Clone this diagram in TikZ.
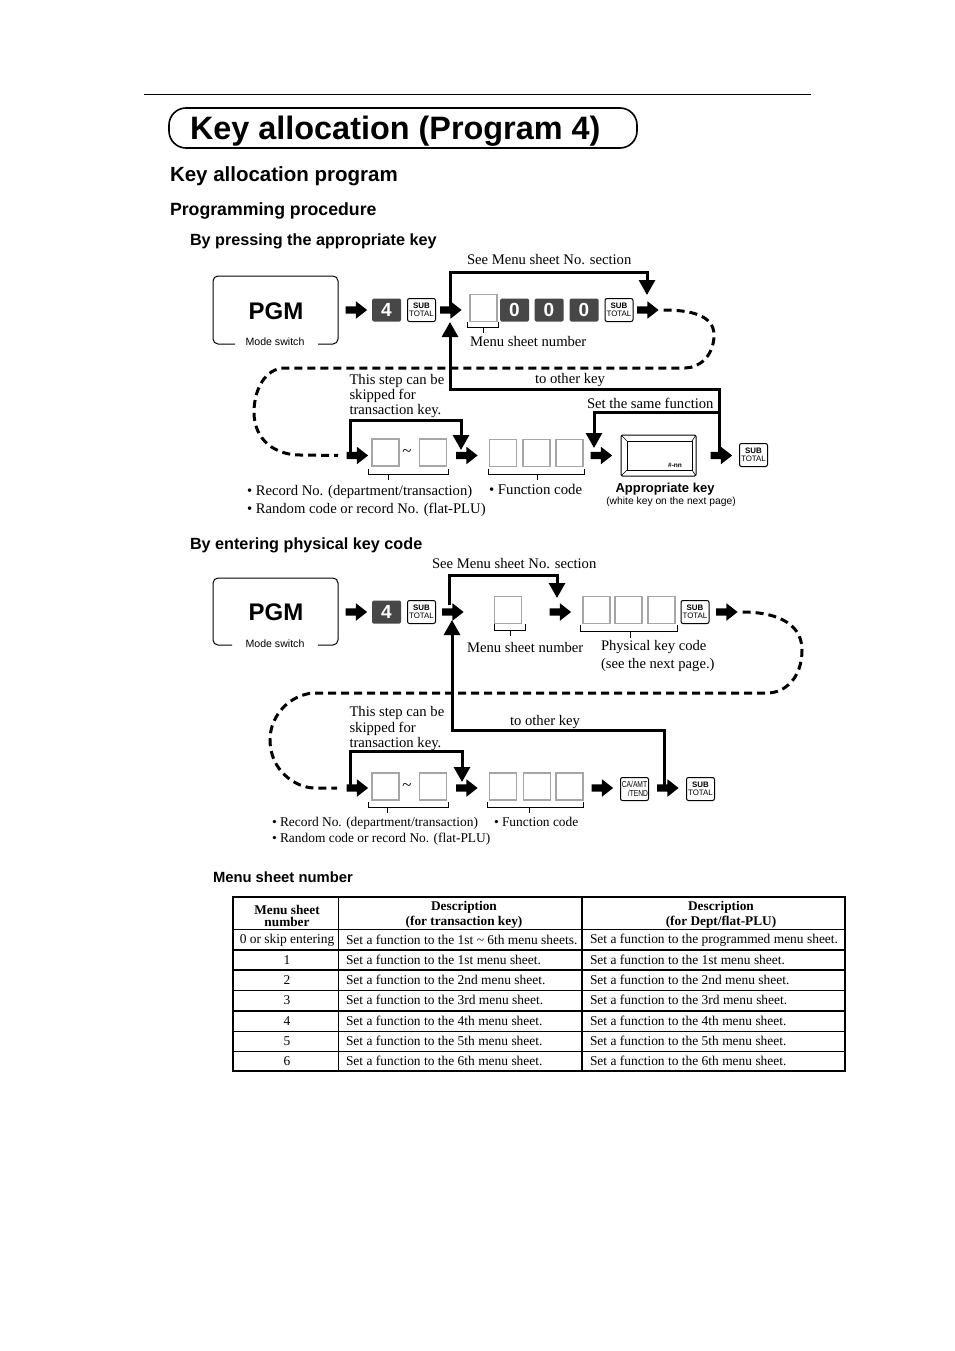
\documentclass[tikz,border=0pt]{standalone}
\usepackage{fontspec}
\usepackage{graphicx}
\setmainfont{Liberation Serif}
\newfontfamily\arialfont{Liberation Sans}
\usetikzlibrary{arrows.meta,shapes.arrows}

\begin{document}
\begin{tikzpicture}[x=1pt, y=-1pt,
  every node/.style = {inner sep=0pt, outer sep=0pt},
  heading/.style = {anchor=west, font=\arialfont\bfseries\fontsize{#1}{#1}\selectfont},
  note/.style = {anchor=west, align=left, font=\fontsize{14.65}{15.3}\selectfont},
  smallnote/.style = {anchor=west, align=left, font=\fontsize{13.4}{16}\selectfont},
  modebox/.style = {line width=1pt, rounded corners=5pt},
  blockarrow/.style = {single arrow, fill=black, inner sep=3.5pt, minimum height=21.5pt,
    single arrow head extend=5pt, single arrow tip angle=76, single arrow head indent=0pt},
  digitkey/.style = {fill=black!72, rounded corners=1.5pt, minimum width=29pt, minimum height=23pt,
    text=white, font=\arialfont\bfseries\fontsize{19}{19}\selectfont},
  whitekey/.style = {draw, line width=1pt, rounded corners=2pt, minimum width=28pt, minimum height=23pt,
    align=center, font=\arialfont\fontsize{7.9}{8.4}\selectfont},
  entrybox/.style = {draw=black!35, line width=1.4pt, minimum width=27pt, minimum height=27pt},
  looparrow/.style = {line width=3pt, -{Triangle[width=16pt,length=15pt]}},
  dashtrack/.style = {line width=3pt, dash pattern=on 8pt off 5pt},
  bracket/.style = {line width=.8pt},
  cell/.style = {font=\fontsize{13.45}{13.45}\selectfont},
  headcell/.style = {align=center, font=\bfseries\fontsize{13.3}{15}\selectfont},
  tildemark/.style = {font=\fontsize{17}{17}\selectfont},
  ]
  \useasboundingbox (0,0) rectangle (954,1351);

  % title block
  \draw[line width=1pt] (144,95) -- (811,95);
  \draw[line width=1.6pt, rounded corners=17pt] (169,108) rectangle (637,148);
  \node[heading=32.4] (title) at (190,131.5) {Key allocation (Program 4)};
  \node[heading=20.5] (section) at (170,176) {Key allocation program};
  \node[heading=17.7] (procedure) at (170,211) {Programming procedure};
  \node[heading=16.2] (methodA) at (190,241) {By pressing the appropriate key};

  % first procedure, upper row
  \draw[modebox] (235,344) -- (213,344) -- (213,276) -- (338,276) -- (338,344) -- (318,344);
  \node[font=\arialfont\bfseries\fontsize{24}{24}\selectfont] (pgmA) at (276,311) {PGM};
  \node[font=\arialfont\fontsize{10.6}{10.6}\selectfont] (modeA) at (275,342) {Mode switch};
  \node[blockarrow] (arrA1) at (354,310) {};
  \node[digitkey] (fourA) at (386.5,310) {4};
  \node[whitekey] (subA1) at (421.5,310) {\textbf{SUB}\\TOTAL};
  \node[blockarrow] (arrA2) at (448.5,310) {};
  \node[entrybox] (menuA) at (483.5,308) {};
  \node[digitkey] (zeroA1) at (514.5,310) {0};
  \node[digitkey] (zeroA2) at (549,310) {0};
  \node[digitkey] (zeroA3) at (584,310) {0};
  \node[whitekey] (subA2) at (619,310) {\textbf{SUB}\\TOTAL};
  \node[blockarrow] (arrA3) at (645.5,310) {};
  \draw[bracket] (467,322) |- (498,327) -- (498,322);
  \draw[bracket] (483,327) -- (483,333);
  \node[note] (seeA) at (467,259.5) {See Menu sheet No. section};
  \node[note] (menuTextA) at (470,341) {Menu sheet number};

  % first procedure, lower row
  \node[blockarrow] (arrA4) at (355,455.5) {};
  \node[entrybox] (fromA) at (385.5,452.5) {};
  \node[tildemark] (tildeA) at (407,453) {\textasciitilde};
  \node[entrybox] (toA) at (433,452.5) {};
  \node[blockarrow] (arrA5) at (464.5,455.5) {};
  \node[entrybox] (codeA1) at (503,453) {};
  \node[entrybox] (codeA2) at (536.5,453) {};
  \node[entrybox] (codeA3) at (569.5,453) {};
  \node[blockarrow] (arrA6) at (599,455.5) {};
  \node[draw, line width=1pt, rounded corners=1.5pt, minimum width=75pt, minimum height=41pt] (appkey) at (658.5,455.5) {};
  \node[draw, line width=1pt, minimum width=65pt, minimum height=29pt] (appface) at (659.5,455.5) {};
  \draw[line width=.6pt] (appkey.north west) -- (appface.north west);
  \draw[line width=.6pt] (appkey.north east) -- (appface.north east);
  \draw[line width=.6pt] (appkey.south west) -- (appface.south west);
  \draw[line width=.6pt] (appkey.south east) -- (appface.south east);
  \node[font=\arialfont\bfseries\fontsize{6.5}{6.5}\selectfont] (appcode) at (675,465) {\#-nn};
  \node[blockarrow] (arrA7) at (719,455.5) {};
  \node[whitekey] (subA3) at (753.5,455) {\textbf{SUB}\\TOTAL};
  \draw[bracket] (368,469) |- (448,474) -- (448,469);
  \draw[bracket] (388,474) -- (388,480);
  \draw[bracket] (488,469) |- (584,474) -- (584,469);
  \draw[bracket] (537,474) -- (537,480);
  \node[note] (skipA) at (349.5,396) {This step can be\\skipped for\\transaction key.};
  \node[note] (otherA) at (535,379.5) {to other key};
  \node[note] (sameA) at (587,403) {Set the same function};
  \node[note, font=\fontsize{14.65}{18}\selectfont] (recordA) at (247,500.5) {• Record No. (department/transaction)\\• Random code or record No. (flat-PLU)};
  \node[note, font=\fontsize{14.8}{15}\selectfont] (funcA) at (489,489.5) {• Function code};
  \node[font=\arialfont\bfseries\fontsize{13}{13}\selectfont] (apptext) at (665,489.5) {Appropriate key};
  \node[font=\arialfont\fontsize{10.3}{10.3}\selectfont] (appnote) at (671,502) {(white key on the next page)};

  % first procedure, connectors
  \coordinate (cornerA1) at (450,272);
  \coordinate (dropA1) at (647,295);
  \coordinate (backA) at (450,389);
  \coordinate (splitA) at (719,412.5);
  \coordinate (dropA2) at (594,448);
  \coordinate (cornerA2) at (350,420.5);
  \coordinate (dropA3) at (461,450);
  \coordinate (riseA) at (450,322);
  \coordinate (dashEndA) at (338,455.5);
  \draw[looparrow] (arrA2.center -| cornerA1) -- (cornerA1) -| (dropA1);
  \draw[looparrow] (arrA7.center -| splitA) -- (splitA) -- (719,389) -- (backA) -- (riseA);
  \draw[looparrow] (splitA) -| (dropA2);
  \draw[looparrow] (arrA4.center -| cornerA2) -- (cornerA2) -| (dropA3);
  \draw[dashtrack] (arrA3.east) ++(5,0) .. controls (690,310) and (714,315) .. (714,335)
    .. controls (714,355) and (700,368) .. (685,368) -- (285,368)
    .. controls (265,368) and (254,390) .. (254,412)
    .. controls (254,440) and (275,455) .. (300,455) -- (dashEndA);

  \node[heading=16.2] (methodB) at (190,545.5) {By entering physical key code};

  % second procedure, upper row
  \draw[modebox] (232,645) -- (213,645) -- (213,578) -- (338,578) -- (338,645) -- (318,645);
  \node[font=\arialfont\bfseries\fontsize{24}{24}\selectfont] (pgmB) at (276,612.5) {PGM};
  \node[font=\arialfont\fontsize{10.6}{10.6}\selectfont] (modeB) at (275,644) {Mode switch};
  \node[blockarrow] (arrB1) at (354,612) {};
  \node[digitkey] (fourB) at (386.5,612) {4};
  \node[whitekey] (subB1) at (421.5,612) {\textbf{SUB}\\TOTAL};
  \node[blockarrow] (arrB2) at (450.5,612) {};
  \node[entrybox] (menuB) at (508,610) {};
  \node[blockarrow] (arrB3) at (558,612) {};
  \node[entrybox] (codeB1) at (596.5,610) {};
  \node[entrybox] (codeB2) at (628.5,610) {};
  \node[entrybox] (codeB3) at (661.5,610) {};
  \node[whitekey] (subB2) at (695,612) {\textbf{SUB}\\TOTAL};
  \node[blockarrow] (arrB4) at (724.5,612) {};
  \draw[bracket] (494,624) |- (525,630) -- (525,624);
  \draw[bracket] (510,630) -- (510,636);
  \draw[bracket] (580,625) |- (677,631) -- (677,625);
  \draw[bracket] (630,631) -- (630,638);
  \node[note] (seeB) at (432,563.5) {See Menu sheet No. section};
  \node[note] (menuTextB) at (467,647) {Menu sheet number};
  \node[note, font=\fontsize{14.6}{18}\selectfont] (physB) at (601,656) {Physical key code\\(see the next page.)};

  % second procedure, lower row
  \node[blockarrow] (arrB5) at (355,788) {};
  \node[entrybox] (fromB) at (385.5,786.5) {};
  \node[tildemark] (tildeB) at (407,787) {\textasciitilde};
  \node[entrybox] (toB) at (433,786.5) {};
  \node[blockarrow] (arrB6) at (464.5,788) {};
  \node[entrybox] (codeB4) at (503,786.5) {};
  \node[entrybox] (codeB5) at (537,786.5) {};
  \node[entrybox] (codeB6) at (569.5,786.5) {};
  \node[blockarrow] (arrB7) at (600,788) {};
  \node[whitekey] (cashB) at (634.5,789) {\scalebox{.85}[1.1]{CA/AMT}\\\hspace*{7pt}\scalebox{.85}[1.1]{/TEND}};
  \node[blockarrow] (arrB8) at (665.5,788) {};
  \node[whitekey] (subB3) at (700.5,789) {\textbf{SUB}\\TOTAL};
  \draw[bracket] (368,802) |- (448,807) -- (448,802);
  \draw[bracket] (387,807) -- (387,813);
  \draw[bracket] (487,802) |- (583,807) -- (583,802);
  \draw[bracket] (529,807) -- (529,813);
  \node[note] (skipB) at (349.5,728.5) {This step can be\\skipped for\\transaction key.};
  \node[note] (otherB) at (510,721.5) {to other key};
  \node[smallnote] (recordB) at (272,831) {• Record No. (department/transaction)\\• Random code or record No. (flat-PLU)};
  \node[smallnote] (funcB) at (494,821.5) {• Function code};

  % second procedure, connectors
  \coordinate (cornerB1) at (449.5,575);
  \coordinate (dropB1) at (557,598);
  \coordinate (backB) at (452,730.5);
  \coordinate (riseB) at (452,620);
  \coordinate (cornerB2) at (350,751.5);
  \coordinate (dropB2) at (462,782);
  \coordinate (dashEndB) at (337,788);
  \draw[looparrow] (arrB2.center -| cornerB1) ++(0,-7) -- (cornerB1) -| (dropB1);
  \draw[looparrow] (arrB8.center -| 664,0) -- (664,730.5) -- (backB) -- (riseB);
  \draw[looparrow] (arrB5.center -| cornerB2) -- (cornerB2) -| (dropB2);
  \draw[dashtrack] (arrB4.east) ++(5,0) .. controls (770,612) and (802,620) .. (802,650)
    .. controls (802,678) and (785,693) .. (767,693) -- (313,693)
    .. controls (290,695) and (270,715) .. (270,740)
    .. controls (270,770) and (295,788) .. (315,788) -- (dashEndB);

  % menu sheet table
  \node[heading=14.8] (tabletitle) at (213,877.5) {Menu sheet number};
  \draw[line width=2pt] (233,897) rectangle (845,1071);
  \draw[line width=1.6pt] (338.5,897) -- (338.5,1071);
  \draw[line width=1.6pt] (582,897) -- (582,1071);
  \draw[line width=1.6pt] (233,929.5) -- (845,929.5);
  \draw[line width=1.6pt] (233,950) -- (845,950);
  \draw[line width=1.6pt] (233,970) -- (845,970);
  \draw[line width=1.6pt] (233,990.5) -- (845,990.5);
  \draw[line width=1.6pt] (233,1011) -- (845,1011);
  \draw[line width=1.6pt] (233,1031.5) -- (845,1031.5);
  \draw[line width=1.6pt] (233,1051.5) -- (845,1051.5);

  \node[headcell, font=\bfseries\fontsize{13.3}{12}\selectfont] (headA) at (287,915.5) {Menu sheet\\number};
  \node[headcell] (headB) at (464,915) {Description\\(for transaction key)};
  \node[headcell] (headC) at (721,915) {Description\\(for Dept/flat-PLU)};

  \node[cell] (no0) at (287,940) {0 or skip entering};
  \node[cell] (no1) at (287,960) {1};
  \node[cell] (no2) at (287,980) {2};
  \node[cell] (no3) at (287,1000) {3};
  \node[cell] (no4) at (287,1021) {4};
  \node[cell] (no5) at (287,1041) {5};
  \node[cell] (no6) at (287,1061) {6};

  \node[cell, anchor=west] (tr0) at (346,940) {Set a function to the 1st \textasciitilde{} 6th menu sheets.};
  \node[cell, anchor=west] (tr1) at (346,960) {Set a function to the 1st menu sheet.};
  \node[cell, anchor=west] (tr2) at (346,980) {Set a function to the 2nd menu sheet.};
  \node[cell, anchor=west] (tr3) at (346,1000) {Set a function to the 3rd menu sheet.};
  \node[cell, anchor=west] (tr4) at (346,1021) {Set a function to the 4th menu sheet.};
  \node[cell, anchor=west] (tr5) at (346,1041) {Set a function to the 5th menu sheet.};
  \node[cell, anchor=west] (tr6) at (346,1061) {Set a function to the 6th menu sheet.};

  \node[cell, anchor=west] (dp0) at (590,940) {Set a function to the programmed menu sheet.};
  \node[cell, anchor=west] (dp1) at (590,960) {Set a function to the 1st menu sheet.};
  \node[cell, anchor=west] (dp2) at (590,980) {Set a function to the 2nd menu sheet.};
  \node[cell, anchor=west] (dp3) at (590,1000) {Set a function to the 3rd menu sheet.};
  \node[cell, anchor=west] (dp4) at (590,1021) {Set a function to the 4th menu sheet.};
  \node[cell, anchor=west] (dp5) at (590,1041) {Set a function to the 5th menu sheet.};
  \node[cell, anchor=west] (dp6) at (590,1061) {Set a function to the 6th menu sheet.};
\end{tikzpicture}
\end{document}
